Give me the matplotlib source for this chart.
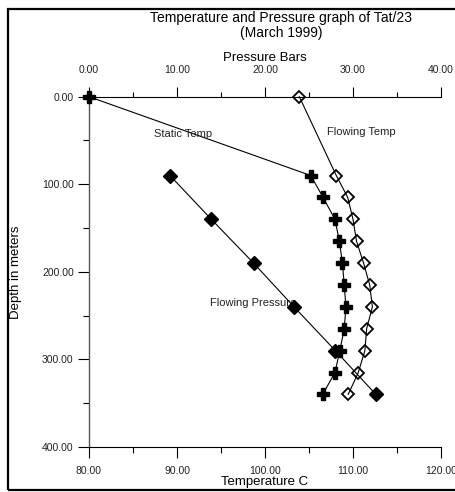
import matplotlib
matplotlib.use("Agg")
import matplotlib.pyplot as plt
from matplotlib.patches import Rectangle
from matplotlib.ticker import MultipleLocator, FormatStrFormatter

plt.rcParams['font.family'] = ['Liberation Sans', 'DejaVu Sans']

# ---- data ----
static_depth = [0, 90, 115, 140, 165, 190, 215, 240, 265, 290, 315, 340]
static_temp = [80.0, 105.2, 106.6, 107.95, 108.45, 108.8, 109.0, 109.2, 109.0, 108.5, 107.95, 106.55]

flow_temp_depth = [0, 90, 115, 140, 165, 190, 215, 240, 265, 290, 315, 340]
flow_temp = [103.9, 108.1, 109.4, 110.0, 110.4, 111.2, 111.9, 112.2, 111.55, 111.35, 110.6, 109.45]

flow_pres_depth = [90, 140, 190, 240, 290, 340]
flow_pres = [9.2, 13.9, 18.7, 23.3, 28.0, 32.6]

W, H = 455, 492
fig = plt.figure(figsize=(W / 100, H / 100), dpi=100)
ax = fig.add_axes([89 / W, 1 - 447 / H, 352 / W, (447 - 96.7) / H])
ax2 = ax.twiny()

# temperature axis (bottom) / depth
ax.set_xlim(80, 120)
ax.set_ylim(400, 0)
ax2.set_xlim(0, 40)

for a in (ax, ax2):
    a.spines['right'].set_visible(False)
    a.patch.set_visible(False)
ax.spines['top'].set_visible(False)
ax2.spines['bottom'].set_visible(False)
ax2.spines['left'].set_visible(False)
ax.spines['left'].set_color('#555555')
ax.spines['left'].set_linewidth(1.0)
ax.spines['bottom'].set_linewidth(0.8)
ax2.spines['top'].set_linewidth(0.8)

ax.xaxis.set_major_locator(MultipleLocator(10))
ax.xaxis.set_minor_locator(MultipleLocator(5))
ax.yaxis.set_major_locator(MultipleLocator(100))
ax.yaxis.set_minor_locator(MultipleLocator(50))
ax2.xaxis.set_major_locator(MultipleLocator(10))
ax2.xaxis.set_minor_locator(MultipleLocator(5))
for axis in (ax.xaxis, ax.yaxis, ax2.xaxis):
    axis.set_major_formatter(FormatStrFormatter('%.2f'))

ax.tick_params(axis='both', which='major', direction='out', length=8, width=0.8,
               labelsize=7.5, colors='black', labelcolor='#222222')
ax.tick_params(axis='both', which='minor', direction='out', length=4.3, width=0.8)
ax.tick_params(axis='x', which='major', pad=6)
ax.tick_params(axis='y', which='major', pad=3)
ax2.tick_params(axis='x', which='major', direction='out', length=7.5, width=0.8,
                labelsize=7.5, labelcolor='#222222', pad=8)
ax2.tick_params(axis='x', which='minor', direction='out', length=3.8, width=0.8)

ax.set_xlabel('Temperature C', fontsize=9.5, labelpad=0)
ax.set_ylabel('Depth in meters', fontsize=9.5)
ax.yaxis.set_label_coords(-0.19, 0.5)
ax2.set_xlabel('Pressure Bars', fontsize=9.5, labelpad=3)

# series
ax.plot(static_temp, static_depth, color='black', lw=0.8, marker='P',
        markersize=9, markerfacecolor='black', markeredgecolor='black', clip_on=False, zorder=3)
ax.plot(flow_temp, flow_temp_depth, color='black', lw=0.8, marker='D',
        markersize=6, markerfacecolor='none', markeredgecolor='black',
        markeredgewidth=1.3, clip_on=False, zorder=3)
ax2.plot(flow_pres, flow_pres_depth, color='black', lw=0.8, marker='D',
         markersize=7, markerfacecolor='black', markeredgecolor='black', clip_on=False, zorder=3)

ax.text(87.4, 42.5, 'Static Temp', fontsize=8, va='center', ha='left', color='#222222')
ax.text(107.1, 40, 'Flowing Temp', fontsize=8, va='center', ha='left', color='#222222')
ax.text(93.8, 235, 'Flowing Pressure', fontsize=8, va='center', ha='left', color='#222222')

fig.text(281 / W, 1 - 18 / H, 'Temperature and Pressure graph of Tat/23', fontsize=10,
         ha='center', va='center')
fig.text(281 / W, 1 - 33 / H, '(March 1999)', fontsize=10, ha='center', va='center')

# outer frame
fig.patches.append(Rectangle((8 / W, 2 / H), 1.2, 1 - 10.5 / H, transform=fig.transFigure,
                             fill=False, edgecolor='black', linewidth=1.6))

fig.savefig('out.png', dpi=100)
